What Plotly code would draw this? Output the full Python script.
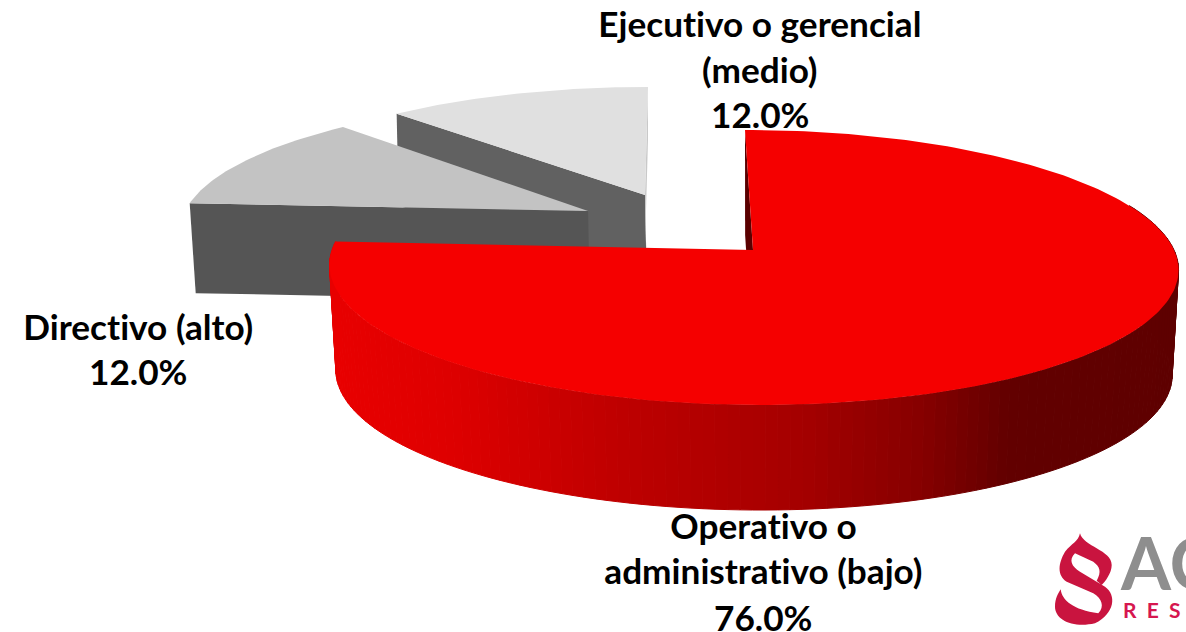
import math
import plotly.graph_objects as go

# ---- data ----
categories = ["Operativo o administrativo (bajo)", "Directivo (alto)", "Ejecutivo o gerencial (medio)"]
values = [76.0, 12.0, 12.0]
label_lines = [["Operativo o", "administrativo (bajo)"], ["Directivo (alto)"], ["Ejecutivo o gerencial", "(medio)"]]

# ---- styling ----
W, H = 1186, 632
B, A, K = 421, 135.3, 0.1273
RED_TOP = "#f50000"
GRAD = [(333, (232, 0, 0)), (450, (222, 0, 0)), (620, (190, 0, 0)), (800, (165, 0, 0)),
        (920, (135, 0, 0)), (1010, (98, 0, 0)), (1180, (94, 0, 0))]
STYLE = [
    dict(apex=(753, 250), sc=1.0, scy=1.0, shear=-8, depth=105, shrink=0.985, top=RED_TOP),
    dict(apex=(588, 211), sc=0.957, scy=0.93, shear=10, depth=90, shrink=0.99, top="#c3c3c3", side="#555555"),
    dict(apex=(645, 195), sc=0.95, scy=0.9, shear=3, depth=92, shrink=1.0, top="#e0e0e0", side="#616161", wall="#c9c9c9"),
]
LABELS = [[(763, 525), (763, 570), (763, 617)], [(138, 326), (138, 371)], [(760, 23), (760, 69), (760, 114)]]


def proj(st, theta):
    t = math.radians(theta)
    u, v = math.sin(t), math.cos(t)
    d = 1 + K * v
    return (st["apex"][0] + st["sc"] * B * u / d + st["shear"] * v,
            st["apex"][1] - st["scy"] * A * v / d)


def down(st, p):
    return (st["apex"][0] + (p[0] - st["apex"][0]) * st["shrink"] + (0 if st["sc"] == 1 else 2), p[1] + st["depth"])


def arc(st, a0, a1, n):
    return [proj(st, a0 + (a1 - a0) * i / n) for i in range(n + 1)]


def grad(x):
    for (x0, c0), (x1, c1) in zip(GRAD, GRAD[1:]):
        if x <= x1:
            f = max(0, (x - x0) / (x1 - x0))
            return "rgb(%d,%d,%d)" % tuple(round(a + (b - a) * f) for a, b in zip(c0, c1))
    return "rgb(%d,%d,%d)" % GRAD[-1][1]


fig = go.Figure()


def poly(pts, color, line=0):
    fig.add_trace(go.Scatter(x=[p[0] for p in pts] + [pts[0][0]], y=[p[1] for p in pts] + [pts[0][1]],
                             mode="lines", fill="toself", fillcolor=color,
                             line=dict(color=color, width=line), hoverinfo="skip", showlegend=False))


# slice angles, clockwise from 12 o'clock
angles = []
acc = 0
for val in values:
    angles.append((acc * 3.6, (acc + val) * 3.6))
    acc += val

# Ejecutivo (back), then Directivo, then the large slice
for idx in (2, 1):
    st = STYLE[idx]
    a0, a1 = angles[idx]
    ap = st["apex"]
    p0 = proj(st, a0)
    poly([p0, ap, down(st, ap), down(st, p0)], st["side"])
    if "wall" in st:
        p1 = proj(st, a1)
        poly([p1, ap, (ap[0], ap[1] + 52), (p1[0], p1[1] + 52)], st["wall"])
    poly([ap] + arc(st, a0, a1, 50), st["top"])

st = STYLE[0]
a0, a1 = angles[0]
p_start = proj(st, a0)
poly([p_start, st["apex"], down(st, st["apex"]), down(st, p_start)], "#5a0000")
step = 1.5
th = 70.0
while th < a1:
    nx = min(th + step, a1)
    p, q = proj(st, th), proj(st, nx)
    poly([p, q, down(st, q), down(st, p)], grad((p[0] + q[0]) / 2), line=1)
    th = nx
poly([st["apex"]] + arc(st, a0, a1, 240), st["top"])

# labels
ann = []
for i, lines in enumerate(label_lines):
    texts = lines + ["%.1f%%" % values[i]]
    for txt, (x, y) in zip(texts, LABELS[i]):
        ann.append(dict(x=x, y=y, text="<b>%s</b>" % txt, showarrow=False, xanchor="center", yanchor="middle",
                        font=dict(family="Lato", size=35.2, color="#000000")))

# logo (coordinates of the 3x crop, converted to page pixels)
LOGO = ("M150,70 C160,110 245,120 245,165 C245,190 225,215 215,225 L200,212 C215,185 210,170 190,155 "
        "L135,130 C115,150 125,170 150,185 L225,230 C260,255 255,310 195,340 C130,355 75,330 75,290 "
        "C75,265 85,250 92,238 C95,270 130,300 205,310 C225,290 215,265 190,250 L110,215 "
        "C80,195 85,160 105,125 C125,100 145,95 150,70 Z")


def logo_path(s):
    idx = 0
    conv = []
    for tok in s.replace(",", " ").split():
        if tok == "Z":
            conv.append("Z")
            continue
        cmd = tok[0] if tok[0].isalpha() else ""
        val = float(tok[1:] if cmd else tok)
        val = 1030 + val / 3 if idx % 2 == 0 else 510 + val / 3
        conv.append(cmd + "%.1f" % val)
        idx += 1
    return " ".join(conv)


shapes = [dict(type="path", path=logo_path(LOGO), fillcolor="#c9143f", line=dict(width=0), xref="x", yref="y")]
fig.add_trace(go.Scatter(x=[1121], y=[572], mode="text", text=["<b>AC</b>"], textposition="middle right",
                         textfont=dict(family="Lato", size=72, color="#8e8e8e"), hoverinfo="skip", showlegend=False))
ann.append(dict(x=1121, y=609, text="<b>R  E  S</b>", showarrow=False, xanchor="left", yanchor="middle",
                font=dict(family="Lato", size=21, color="#d6174f")))

fig.update_layout(width=W, height=H, margin=dict(l=0, r=0, t=0, b=0), paper_bgcolor="white", plot_bgcolor="white",
                  xaxis=dict(range=[0, W], visible=False, fixedrange=True),
                  yaxis=dict(range=[H, 0], visible=False, fixedrange=True),
                  annotations=ann, shapes=shapes, showlegend=False)
POST = ("document.body.style.margin='0';document.body.style.overflow='hidden';"
        "var s=document.createElement('style');"
        "s.textContent='svg text{font-variant-ligatures:none !important;font-feature-settings:\"liga\" 0,\"clig\" 0 !important}';"
        "document.head.appendChild(s);")
fig.write_html("out.html", config=dict(displayModeBar=False), post_script=POST)
